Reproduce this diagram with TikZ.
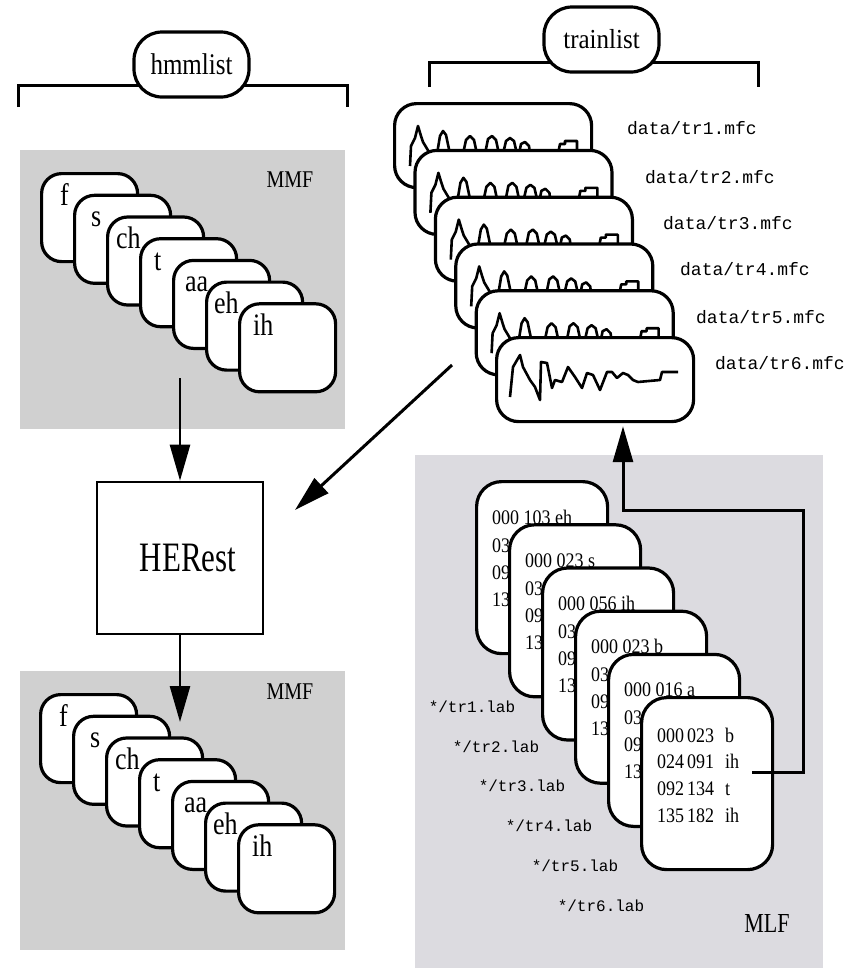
\documentclass[tikz,border=0pt]{standalone}
\usepackage{fontspec}
\setmainfont{Liberation Serif}
\setmonofont{Liberation Mono}
\usetikzlibrary{arrows.meta,calc}
\definecolor{mmfgray}{HTML}{D0D0D0}
\definecolor{mlfgray}{HTML}{DCDBE0}
\newcommand{\vs}[2][1.2]{\scalebox{1}[#1]{#2}}
\newcommand{\mlfrow}[3]{\makebox[30pt][l]{#1}\makebox[38pt][l]{#2}#3}
\begin{document}
\begin{tikzpicture}[x=1pt,y=-1pt,
  brk/.style={line width=3pt},
  tag/.style={draw, line width=3.2pt, fill=white, rounded corners=28pt, minimum width=115pt, minimum height=65pt, inner sep=0pt, font=\fontsize{25}{25}\selectfont},
  mmfcard/.style={draw, fill=white, line width=3.2pt, rounded corners=20pt, minimum width=96pt, minimum height=88pt, anchor=north west, inner sep=0pt},
  trcard/.style={draw, fill=white, line width=3.2pt, rounded corners=22pt, minimum width=197pt, minimum height=84pt, anchor=north west, inner sep=0pt},
  mlfcard/.style={draw, fill=white, line width=3.2pt, rounded corners=25pt, minimum width=131pt, minimum height=172pt, anchor=north west, inner sep=0pt},
  lbl/.style={anchor=base west, inner sep=0pt, font=\fontsize{26}{26}\selectfont},
  mlft/.style={anchor=base west, inner sep=0pt, font=\fontsize{18}{18}\selectfont},
  region/.style={inner sep=0pt, font=\fontsize{20}{20}\selectfont},
  wave/.style={line width=2.6pt, line join=round},
  datalbl/.style={inner sep=0pt, font=\ttfamily\fontsize{18}{18}\selectfont},
  lablbl/.style={inner sep=0pt, font=\ttfamily\fontsize{16}{16}\selectfont},
  arr/.style={line width=2.6pt, -{Triangle[length=36pt,width=20pt]}},
  proc/.style={draw, line width=2.6pt, fill=white, minimum width=166pt, minimum height=152pt, inner sep=0pt, font=\fontsize{31}{31}\selectfont}
]
\useasboundingbox (0,0) rectangle (861,970);
% gray areas
\fill[mmfgray] (20,150) rectangle (345,429);
\fill[mmfgray] (20,671) rectangle (345,950);
\fill[mlfgray] (415,455) rectangle (823,968);

% brackets and list tags
\draw[brk] (18,107) -- (18,85) -- (347,85) -- (347,107);
\node[tag] (hmmlist) at (191.5,64.5) {\vs{hmmlist}};
\draw[brk] (429,87) -- (429,62) -- (758,62) -- (758,87);
\node[tag] (trainlist) at (601.5,39.5) {\vs[1.1]{trainlist}};

% region labels
\node[region] (mmf1) at (290,180) {\vs[1.2]{MMF}};
\node[region] (mmf2) at (290,692) {\vs[1.2]{MMF}};
\node[region, font=\fontsize{22}{22}\selectfont] (mlf) at (767,923) {\vs[1.25]{MLF}};

% top MMF cards
\foreach \i/\lab/\dx in {0/f/20,1/s/18,2/ch/10,3/t/15,4/aa/13,5/eh/9,6/ih/15} {
  \node[mmfcard] (mt\i) at ({40+33*\i},{172+21.7*\i}) {};
  \node[lbl] (mtl\i) at ($(mt\i.north west)+(\dx,33)$) {\vs{\lab}};
}
% bottom MMF cards
\foreach \i/\lab/\dx in {0/f/20,1/s/18,2/ch/10,3/t/15,4/aa/13,5/eh/9,6/ih/15} {
  \node[mmfcard] (mb\i) at ({39+33*\i},{693+21.7*\i}) {};
  \node[lbl] (mbl\i) at ($(mb\i.north west)+(\dx,33)$) {\vs{\lab}};
}

% trainlist cards
\foreach \i in {0,...,4} {
  \node[trcard] (tc\i) at ({393+20.4*\i},{102+46.8*\i}) {};
  \draw[wave, shift={(tc\i.north west)}] (17,64) -- (18,44) -- (22,36) -- (25,24) -- (28,34) -- (30,40) -- (36,50) -- (44,52) -- (47,34) -- (50,29) -- (53,33) -- (57,52) -- (70,52) -- (73,38) -- (77,34) -- (81,38) -- (84,52) -- (92,52) -- (95,37) -- (99,34) -- (103,38) -- (106,52) -- (110,52) -- (113,39) -- (117,36) -- (121,39) -- (124,52) -- (126,52) -- (128,42) -- (132,40) -- (136,44) -- (137,52) -- (165,52) -- (167,42) -- (172,42) -- (172,39) -- (184,39) -- (184,52);
}
\node[trcard] (tc5) at (495,336) {};
\draw[wave, shift={(tc5.north west)}] (15,61) -- (18,31) -- (25,19) -- (28,31) -- (35,44) -- (40,51) -- (45,64) -- (46,26) -- (52,27) -- (57,52) -- (60,44) -- (67,46) -- (73,31) -- (80,41) -- (87,52) -- (92,37) -- (98,39) -- (105,54) -- (112,36) -- (117,36) -- (122,42) -- (128,37) -- (133,39) -- (138,44) -- (143,46) -- (165,44) -- (167,36) -- (183,36);

% data labels
\node[datalbl] (d1) at (692,128) {data/tr1.mfc};
\node[datalbl] (d2) at (710,177) {data/tr2.mfc};
\node[datalbl] (d3) at (728,223) {data/tr3.mfc};
\node[datalbl] (d4) at (745,269) {data/tr4.mfc};
\node[datalbl] (d5) at (761,317) {data/tr5.mfc};
\node[datalbl] (d6) at (780,363) {data/tr6.mfc};

% MLF cards
\foreach \i/\txt in {0/000 103 eh,1/000 023 s,2/000 056 ih,3/000 023 b,4/000 016 a} {
  \node[mlfcard] (lc\i) at ({475+33*\i},{480+43.2*\i}) {};
  \node[mlft] (lt\i a) at ($(lc\i.north west)+(17,44)$) {\vs[1.15]{\txt}};
  \node[mlft] (lt\i b) at ($(lc\i.north west)+(17,72)$) {\vs[1.15]{03}};
  \node[mlft] (lt\i c) at ($(lc\i.north west)+(17,99)$) {\vs[1.15]{09}};
  \node[mlft] (lt\i d) at ($(lc\i.north west)+(17,126)$) {\vs[1.15]{13}};
}
\node[mlfcard] (lc5) at (640,696) {};
\node[mlft] (l5a) at ($(lc5.north west)+(17,46)$) {\vs[1.15]{\mlfrow{000}{023}{b}}};
\node[mlft] (l5b) at ($(lc5.north west)+(17,72)$) {\vs[1.15]{\mlfrow{024}{091}{ih}}};
\node[mlft] (l5c) at ($(lc5.north west)+(17,99)$) {\vs[1.15]{\mlfrow{092}{134}{t}}};
\node[mlft] (l5d) at ($(lc5.north west)+(17,126)$) {\vs[1.15]{\mlfrow{135}{182}{ih}}};

% lab labels
\node[lablbl] (b1) at (472,707) {*/tr1.lab};
\node[lablbl] (b2) at (496,747) {*/tr2.lab};
\node[lablbl] (b3) at (522,786) {*/tr3.lab};
\node[lablbl] (b4) at (549,826) {*/tr4.lab};
\node[lablbl] (b5) at (575,866) {*/tr5.lab};
\node[lablbl] (b6) at (601,906) {*/tr6.lab};

% HERest
\node[proc] (herest) at (180,558) {\hspace*{16pt}\vs[1.35]{HERest}};

% connectors
\coordinate (mmfout) at (180,378);
\coordinate (mmfin) at (180,722);
\coordinate (dstart) at (452,365);
\coordinate (dend) at (295,510);
\coordinate (mlfout) at ($(lc5.north west)+(112,76)$);
\coordinate (turn) at (803,510);
\coordinate (trin) at ($(tc5.south west)+(128,3)$);
\draw[arr] (mmfout) -- (herest.north);
\draw[arr] (herest.south) -- (mmfin);
\draw[arr, line width=3pt] (dstart) -- (dend);
\draw[arr, line width=3pt] (mlfout) -| (turn) -| (trin);
\end{tikzpicture}
\end{document}
